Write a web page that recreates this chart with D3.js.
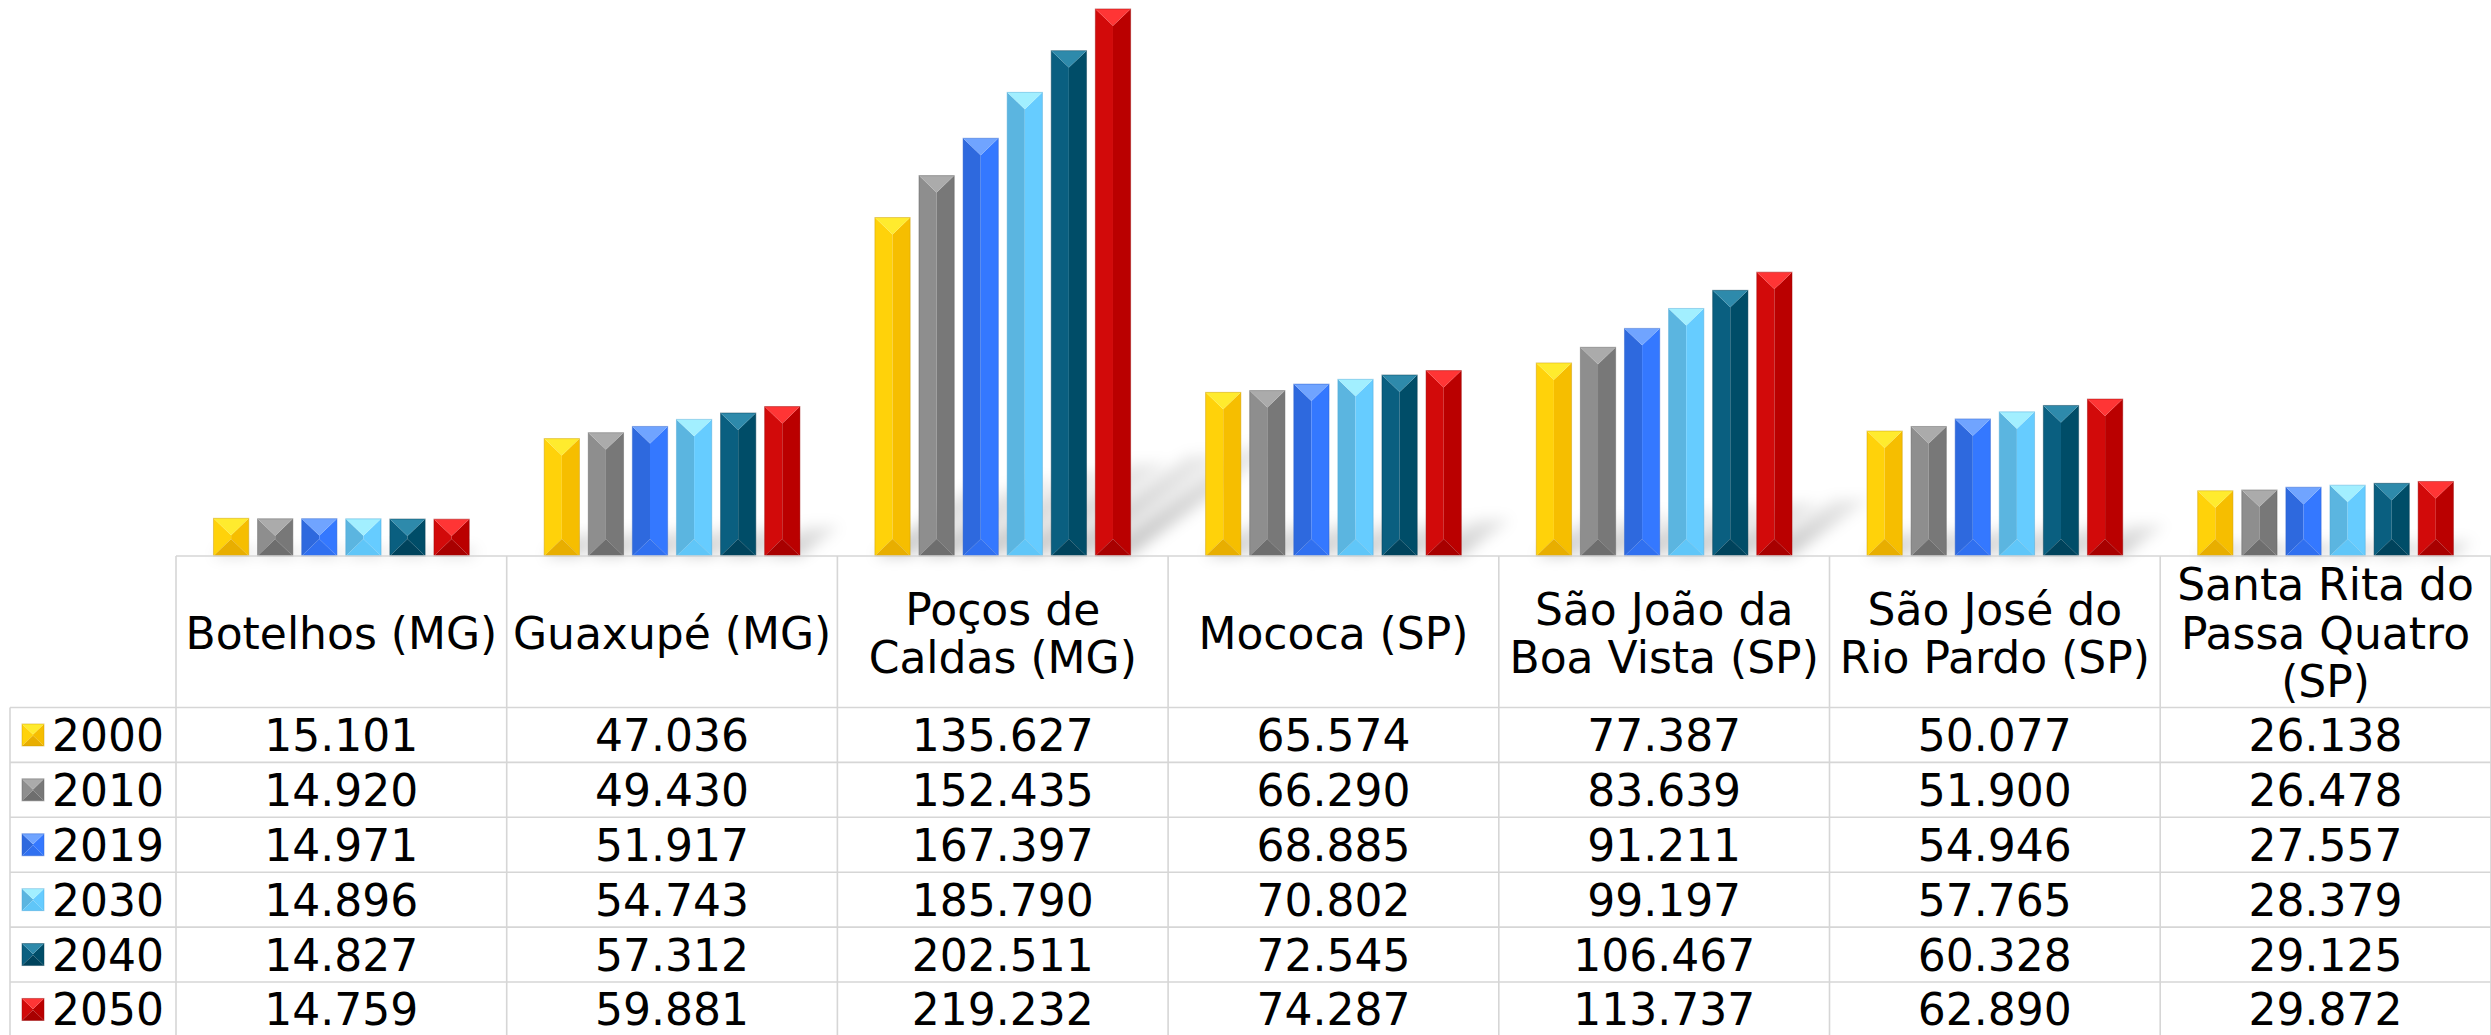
<!DOCTYPE html>
<html>
<head>
<meta charset="utf-8">
<script src="https://cdn.jsdelivr.net/npm/d3@7"></script>
<style>
  html, body { margin: 0; padding: 0; background: #fff; }
  svg { display: block; }
  text { font-family: "DejaVu Sans", sans-serif; fill: #000; }
</style>
</head>
<body>
<script>
// ---------- DATA ----------
const categories = [
  "Botelhos (MG)",
  "Guaxupé (MG)",
  "Poços de Caldas (MG)",
  "Mococa (SP)",
  "São João da Boa Vista (SP)",
  "São José do Rio Pardo (SP)",
  "Santa Rita do Passa Quatro (SP)"
];
const categoryLines = [
  ["Botelhos (MG)"],
  ["Guaxupé (MG)"],
  ["Poços de", "Caldas (MG)"],
  ["Mococa (SP)"],
  ["São João da", "Boa Vista (SP)"],
  ["São José do", "Rio Pardo (SP)"],
  ["Santa Rita do", "Passa Quatro", "(SP)"]
];
const years = ["2000", "2010", "2019", "2030", "2040", "2050"];
const values2000 = [15101, 47036, 135627, 65574, 77387, 50077, 26138];
const values2010 = [14920, 49430, 152435, 66290, 83639, 51900, 26478];
const values2019 = [14971, 51917, 167397, 68885, 91211, 54946, 27557];
const values2030 = [14896, 54743, 185790, 70802, 99197, 57765, 28379];
const values2040 = [14827, 57312, 202511, 72545, 106467, 60328, 29125];
const values2050 = [14759, 59881, 219232, 74287, 113737, 62890, 29872];
const seriesValues = [values2000, values2010, values2019, values2030, values2040, values2050];

// ---------- STYLE ----------
const palette = {
  "2000": {left: "#FFD20A", right: "#F6BE00", top: "#FFEB2E", bottom: "#E8AE00", stroke: "#C99A00"},
  "2010": {left: "#8E8E8E", right: "#787878", top: "#ABABAB", bottom: "#6E6E6E", stroke: "#606060"},
  "2019": {left: "#2E69DE", right: "#3478FF", top: "#70A4FF", bottom: "#3070F0", stroke: "#2A5FCC"},
  "2030": {left: "#5BB5E0", right: "#66CCFF", top: "#A2EFFF", bottom: "#60C6F8", stroke: "#4AA6D6"},
  "2040": {left: "#0A5F80", right: "#004D68", top: "#2E8AAB", bottom: "#00435C", stroke: "#003A50"},
  "2050": {left: "#D20A0A", right: "#BA0000", top: "#FF3535", bottom: "#A80000", stroke: "#990000"}
};

const W = 2491, H = 1035;
const tableLeft = 10, plotLeft = 176, colW = 330.7;
const baseline = 556, headerBottom = 707.5, rowH = 54.9;
const fontSize = 44;
const fmt = d3.formatLocale({decimal: ",", thousands: ".", grouping: [3], currency: ["R$", ""]}).format(",d");

const svg = d3.select("body").append("svg").attr("width", W).attr("height", H);

const defs = svg.append("defs");
const blur = defs.append("filter").attr("id", "shadowBlur")
  .attr("x", "-50%").attr("y", "-50%").attr("width", "200%").attr("height", "200%");
blur.append("feGaussianBlur").attr("stdDeviation", 7);
const grad = defs.append("linearGradient").attr("id", "shadowGrad")
  .attr("x1", 0).attr("y1", 1).attr("x2", 0).attr("y2", 0);
grad.append("stop").attr("offset", 0).attr("stop-color", "#000").attr("stop-opacity", 0.22);
grad.append("stop").attr("offset", 1).attr("stop-color", "#000").attr("stop-opacity", 0.08);

// ---------- SCALES ----------
const x0 = d3.scaleBand().domain(categories).range([plotLeft, plotLeft + colW * categories.length]);
const x1 = d3.scaleBand().domain(years).range([0, x0.bandwidth()]).paddingInner(0.2).paddingOuter(0.85);
const y = d3.scaleLinear().domain([0, 220000]).range([baseline, 7]);
const rowY = d3.scaleBand().domain(years).range([headerBottom, headerBottom + rowH * years.length]);

const barData = [];
categories.forEach((c, ci) => {
  years.forEach((yr, si) => {
    barData.push({cat: c, year: yr, value: seriesValues[si][ci]});
  });
});

// ---------- SHADOWS ----------
const shK = 0.27, shS = 0.2;
svg.append("g").attr("filter", "url(#shadowBlur)")
  .selectAll("path").data(barData).join("path")
  .attr("d", d => {
    const x = x0(d.cat) + x1(d.year), w = x1.bandwidth();
    const h = baseline - y(d.value);
    const dx = h * shK, dy = h * shS;
    return `M${x},${baseline}L${x + w},${baseline}L${x + w + dx},${baseline - dy}L${x + dx},${baseline - dy}Z`;
  })
  .attr("fill", "url(#shadowGrad)");

// ---------- BEVEL BARS ----------
function bevel(g, x, top, w, bottom, col) {
  const h = bottom - top;
  const d = Math.min(w * 0.48, h / 2);
  const cx = x + w / 2;
  g.append("path").attr("d", `M${x},${top}L${cx},${top + d}L${cx},${bottom - d}L${x},${bottom}Z`).attr("fill", col.left);
  g.append("path").attr("d", `M${x + w},${top}L${cx},${top + d}L${cx},${bottom - d}L${x + w},${bottom}Z`).attr("fill", col.right);
  g.append("path").attr("d", `M${x},${top}L${x + w},${top}L${cx},${top + d}Z`).attr("fill", col.top);
  g.append("path").attr("d", `M${x},${bottom}L${x + w},${bottom}L${cx},${bottom - d}Z`).attr("fill", col.bottom);
  g.append("rect").attr("x", x).attr("y", top).attr("width", w).attr("height", h)
    .attr("fill", "none").attr("stroke", col.stroke).attr("stroke-opacity", 0.45).attr("stroke-width", 1);
}

const barsG = svg.append("g");
barData.forEach(d => {
  const g = barsG.append("g");
  bevel(g, x0(d.cat) + x1(d.year), y(d.value), x1.bandwidth(), y(0), palette[d.year]);
});

// ---------- TABLE ----------
const grid = svg.append("g").attr("stroke", "#d6d6d6").attr("stroke-width", 1.6).attr("fill", "none");
const tableBottom = headerBottom + rowH * years.length;
grid.append("line").attr("x1", plotLeft).attr("x2", W).attr("y1", baseline).attr("y2", baseline);
d3.range(years.length + 1).forEach(i => {
  const yy = headerBottom + i * rowH;
  grid.append("line").attr("x1", tableLeft).attr("x2", W).attr("y1", yy).attr("y2", yy);
});
grid.append("line").attr("x1", tableLeft).attr("x2", tableLeft).attr("y1", headerBottom).attr("y2", tableBottom);
categories.forEach(c => {
  grid.append("line").attr("x1", x0(c)).attr("x2", x0(c)).attr("y1", baseline).attr("y2", tableBottom);
});
grid.append("line").attr("x1", x0.range()[1]).attr("x2", x0.range()[1]).attr("y1", baseline).attr("y2", tableBottom);

// header labels
const capHalf = fontSize * 0.729 / 2;
const lineH = 48.5;
const headerMid = (baseline + headerBottom) / 2 + 1;
categories.forEach((c, ci) => {
  const lines = categoryLines[ci];
  const cx = x0(c) + x0.bandwidth() / 2;
  lines.forEach((ln, li) => {
    const cy = headerMid + (li - (lines.length - 1) / 2) * lineH;
    svg.append("text").attr("x", cx).attr("y", cy + capHalf)
      .attr("text-anchor", "middle").attr("font-size", fontSize).text(ln);
  });
});

// legend keys + year labels
years.forEach(yr => {
  const cy = rowY(yr) + rowY.bandwidth() / 2;
  const g = svg.append("g");
  bevel(g, 22, cy - 11, 22, cy + 11, palette[yr]);
  svg.append("text").attr("x", 52).attr("y", cy + capHalf)
    .attr("font-size", fontSize).text(yr);
});

// values
years.forEach((yr, si) => {
  const cy = rowY(yr) + rowY.bandwidth() / 2;
  categories.forEach((c, ci) => {
    svg.append("text").attr("x", x0(c) + x0.bandwidth() / 2).attr("y", cy + capHalf)
      .attr("text-anchor", "middle").attr("font-size", fontSize)
      .text(fmt(seriesValues[si][ci]));
  });
});
</script>
</body>
</html>
